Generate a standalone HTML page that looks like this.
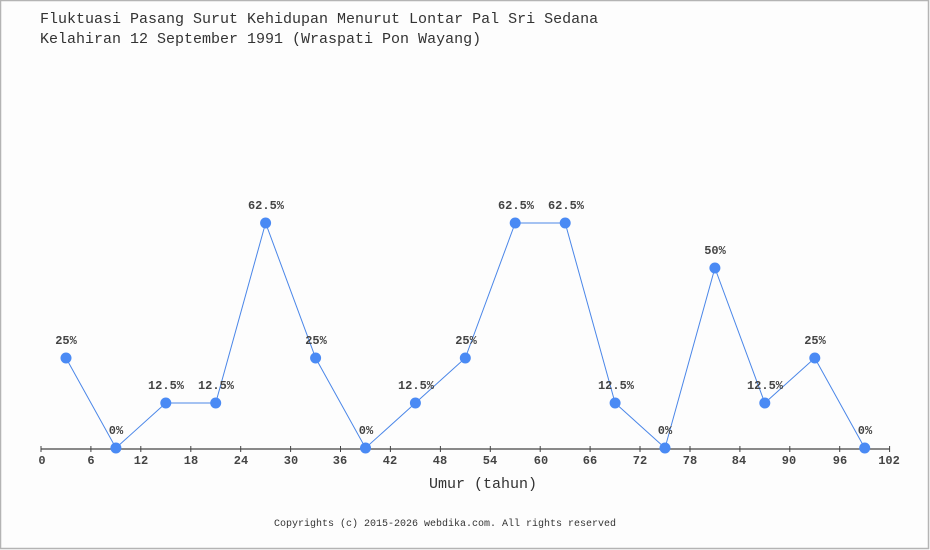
<!DOCTYPE html>
<html><head><meta charset="utf-8"><style>
html,body{margin:0;padding:0;background:#fff;}
#c{position:relative;width:930px;height:550px;overflow:hidden;}
svg{position:absolute;left:0;top:0;}
</style></head><body><div id="c">
<svg width="930" height="550" viewBox="0 0 930 550" xmlns="http://www.w3.org/2000/svg">
<rect x="0" y="0" width="930" height="550" fill="#fdfdfd"/>
<rect x="0.5" y="0.5" width="928" height="548" fill="none" stroke="#b4b4b4" stroke-width="1.5"/>
<g font-family="Liberation Mono, monospace" fill="#333">
<text x="40" y="23" font-size="15">Fluktuasi Pasang Surut Kehidupan Menurut Lontar Pal Sri Sedana</text>
<text x="40" y="43" font-size="15">Kelahiran 12 September 1991 (Wraspati Pon Wayang)</text>
</g>
<line x1="41" y1="449" x2="890" y2="449" stroke="#444" stroke-width="1.2"/>
<g stroke="#444" stroke-width="1">
<line x1="41" y1="446" x2="41" y2="452"/><line x1="90.9" y1="446" x2="90.9" y2="452"/><line x1="140.8" y1="446" x2="140.8" y2="452"/><line x1="190.8" y1="446" x2="190.8" y2="452"/><line x1="240.7" y1="446" x2="240.7" y2="452"/><line x1="290.6" y1="446" x2="290.6" y2="452"/><line x1="340.5" y1="446" x2="340.5" y2="452"/><line x1="390.4" y1="446" x2="390.4" y2="452"/><line x1="440.4" y1="446" x2="440.4" y2="452"/><line x1="490.3" y1="446" x2="490.3" y2="452"/><line x1="540.2" y1="446" x2="540.2" y2="452"/><line x1="590.1" y1="446" x2="590.1" y2="452"/><line x1="640" y1="446" x2="640" y2="452"/><line x1="690" y1="446" x2="690" y2="452"/><line x1="739.9" y1="446" x2="739.9" y2="452"/><line x1="789.8" y1="446" x2="789.8" y2="452"/><line x1="839.7" y1="446" x2="839.7" y2="452"/><line x1="889.6" y1="446" x2="889.6" y2="452"/>
</g>
<g font-family="Liberation Mono, monospace" font-size="12" font-weight="bold" fill="#444" text-anchor="middle">
<text x="42" y="464">0</text><text x="91" y="464">6</text><text x="141" y="464">12</text><text x="191" y="464">18</text><text x="241" y="464">24</text><text x="291" y="464">30</text><text x="340" y="464">36</text><text x="390" y="464">42</text><text x="440" y="464">48</text><text x="490" y="464">54</text><text x="541" y="464">60</text><text x="590" y="464">66</text><text x="640" y="464">72</text><text x="690" y="464">78</text><text x="739" y="464">84</text><text x="789" y="464">90</text><text x="840" y="464">96</text><text x="889" y="464">102</text>
</g>
<text x="483" y="488" font-family="Liberation Mono, monospace" font-size="15" fill="#333" text-anchor="middle">Umur (tahun)</text>
<text x="445" y="526" font-family="Liberation Mono, monospace" font-size="10" fill="#333" text-anchor="middle">Copyrights (c) 2015-2026 webdika.com. All rights reserved</text>
<polyline fill="none" stroke="#4a86e8" stroke-width="1" points="66,358 115.9,448 165.8,403 215.7,403 265.6,223 315.6,358 365.5,448 415.4,403 465.3,358 515.2,223 565.2,223 615.1,403 665,448 714.9,268 764.8,403 814.8,358 864.7,448"/>
<g fill="#4a8af4">
<circle cx="66" cy="358" r="5.5"/><circle cx="115.9" cy="448" r="5.5"/><circle cx="165.8" cy="403" r="5.5"/><circle cx="215.7" cy="403" r="5.5"/><circle cx="265.6" cy="223" r="5.5"/><circle cx="315.6" cy="358" r="5.5"/><circle cx="365.5" cy="448" r="5.5"/><circle cx="415.4" cy="403" r="5.5"/><circle cx="465.3" cy="358" r="5.5"/><circle cx="515.2" cy="223" r="5.5"/><circle cx="565.2" cy="223" r="5.5"/><circle cx="615.1" cy="403" r="5.5"/><circle cx="665" cy="448" r="5.5"/><circle cx="714.9" cy="268" r="5.5"/><circle cx="764.8" cy="403" r="5.5"/><circle cx="814.8" cy="358" r="5.5"/><circle cx="864.7" cy="448" r="5.5"/>
</g>
<g font-family="Liberation Mono, monospace" font-size="12" font-weight="bold" fill="#444" text-anchor="middle">
<text x="66" y="344">25%</text><text x="116" y="434">0%</text><text x="166" y="389">12.5%</text><text x="216" y="389">12.5%</text><text x="266" y="209">62.5%</text><text x="316" y="344">25%</text><text x="366" y="434">0%</text><text x="416" y="389">12.5%</text><text x="466" y="344">25%</text><text x="516" y="209">62.5%</text><text x="566" y="209">62.5%</text><text x="616" y="389">12.5%</text><text x="665" y="434">0%</text><text x="715" y="254">50%</text><text x="765" y="389">12.5%</text><text x="815" y="344">25%</text><text x="865" y="434">0%</text>
</g>
</svg>
</div></body></html>
